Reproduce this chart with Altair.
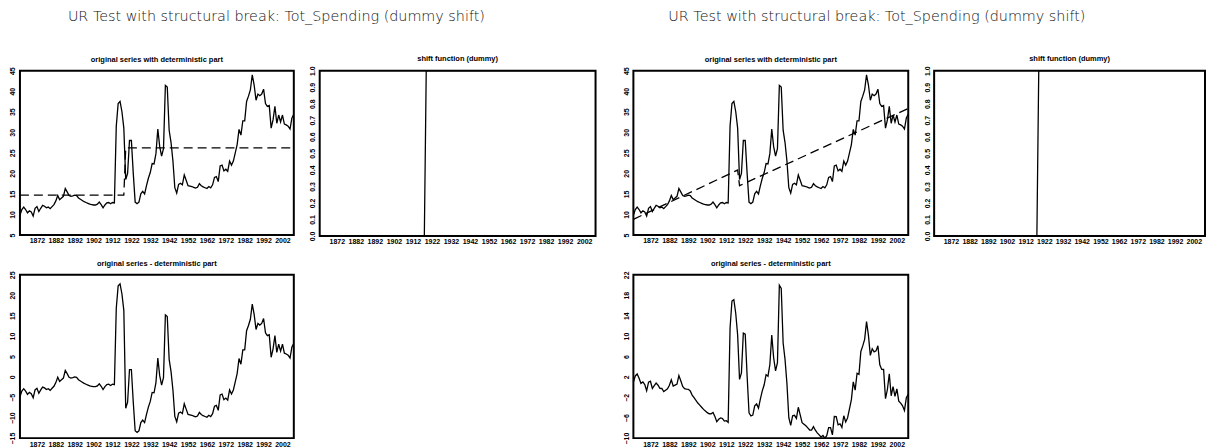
import altair as alt
import pandas as pd

# ---- data ----
years = list(range(1863, 2009))
tot_spending = [
    9.8, 11.2, 11.8, 11.2, 10.4, 10.9, 10.6, 9.6, 11.5, 11.9,      # 1863-1872
    10.7, 11.5, 12.2, 12.0, 11.6, 11.8, 11.4, 11.9, 12.4, 13.3,    # 1873-1882
    14.6, 13.6, 14.0, 14.4, 16.3, 15.5, 14.6, 14.4, 14.5, 14.7,    # 1883-1892
    14.6, 14.0, 13.7, 13.4, 13.1, 12.9, 12.7, 12.5, 12.4, 12.3,    # 1893-1902
    12.3, 12.5, 13.0, 12.4, 11.6, 12.3, 12.8, 12.9, 12.6, 12.9,    # 1903-1912
    12.8, 31.5, 37.0, 37.5, 35.0, 31.0, 18.5, 20.0, 28.0, 28.0,    # 1913-1922
    20.0, 13.0, 12.6, 13.0, 15.0, 15.6, 15.0, 17.0, 18.8, 20.2,    # 1923-1932
    22.4, 22.3, 24.8, 30.8, 26.5, 24.2, 26.0, 41.4, 41.0, 30.5,    # 1933-1942
    27.5, 23.0, 16.5, 15.2, 17.3, 17.6, 17.2, 19.6, 18.3, 17.0,    # 1943-1952
    16.9, 16.8, 16.6, 16.4, 16.6, 17.5, 17.0, 16.7, 16.5, 16.3,    # 1953-1962
    16.8, 16.5, 17.2, 19.0, 19.2, 18.0, 21.8, 22.0, 20.6, 21.0,    # 1963-1972
    20.5, 23.0, 22.0, 23.0, 25.0, 27.0, 30.7, 29.3, 32.8, 32.8,    # 1973-1982
    37.5, 38.8, 40.3, 44.0, 41.5, 37.8, 39.3, 38.9, 39.3, 40.5,    # 1983-1992
    37.0, 36.3, 36.5, 31.0, 33.0, 36.3, 32.2, 34.2, 32.5, 34.2,    # 1993-2002
    32.0, 31.8, 31.5, 30.8, 33.5, 34.4,                            # 2003-2008
]
# deterministic parts (end points of each regime), break after 1918
det_years = [1863, 1918, 1919, 2008]
det_const_shift = [14.7, 14.7, 26.2, 26.2]
det_trend_shift = [8.8, 20.8, 17.0, 35.8]
shift_dummy = [0, 0, 1, 1]
break_year = 1918

x_ticks = list(range(1872, 2003, 10))
title_main = "UR Test with structural break: Tot_Spending (dummy shift)"

series = pd.DataFrame({"year": years, "value": tot_spending})


def regime_line(y0, y1, v0, v1, t):
    if y1 == y0:
        return v0
    return v0 + (v1 - v0) * (t - y0) / (y1 - y0)


def det_at(t, vals):
    if t <= break_year:
        return regime_line(det_years[0], det_years[1], vals[0], vals[1], t)
    return regime_line(det_years[2], det_years[3], vals[2], vals[3], t)


resid_const = pd.DataFrame({"year": years,
                            "value": [v - det_at(t, det_const_shift) for t, v in zip(years, tot_spending)]})
resid_trend = pd.DataFrame({"year": years,
                            "value": [v - det_at(t, det_trend_shift) for t, v in zip(years, tot_spending)]})
det_c = pd.DataFrame({"year": det_years, "value": det_const_shift})
det_t = pd.DataFrame({"year": det_years, "value": det_trend_shift})
shift_df = pd.DataFrame({"year": det_years, "value": shift_dummy})

SMALL_FONT = "Liberation Sans Narrow, Liberation Sans, Arial"


def xenc():
    return alt.X("year:Q",
                 scale=alt.Scale(domain=[1863, 2008], nice=False, zero=False),
                 axis=alt.Axis(values=x_ticks, format="d", title=None, grid=False,
                               ticks=False, domain=False, labelPadding=2,
                               labelFontSize=7, labelFontWeight="bold", labelFont=SMALL_FONT,
                               labelColor="black", labelFlush=False, labelOverlap=False),
                 )


def yenc(domain, ticks, fmt):
    return alt.Y("value:Q",
                 scale=alt.Scale(domain=domain, nice=False, zero=False),
                 axis=alt.Axis(values=ticks, format=fmt, title=None, grid=False,
                               ticks=False, domain=False, labelPadding=4, labelAngle=270,
                               labelAlign="center", labelBaseline="bottom",
                               labelFontSize=7, labelFontWeight="bold", labelFont=SMALL_FONT,
                               labelColor="black", labelFlush=False, labelOverlap=False))


def sub_title(txt):
    return alt.TitleParams(txt, fontSize=7.5, fontWeight="bold", font=SMALL_FONT,
                           color="black", offset=3, anchor="middle")


def panel(main_df, dash_df, domain, ticks, fmt, txt, w, h):
    line = alt.Chart(main_df).mark_line(color="black", strokeWidth=1.3, clip=True).encode(
        x=xenc(), y=yenc(domain, ticks, fmt))
    layers = [line]
    if dash_df is not None:
        dash = alt.Chart(dash_df).mark_line(color="black", strokeWidth=1.3,
                                            strokeDash=[9, 5], clip=True).encode(
            x=xenc(), y=yenc(domain, ticks, fmt))
        layers.append(dash)
    return alt.layer(*layers).properties(width=w, height=h, title=sub_title(txt))


t45 = list(range(5, 46, 5))
t01 = [round(i * 0.1, 1) for i in range(11)]

# left group: constant + shift
A1 = panel(series, det_c, [5, 45], t45, "d", "original series with deterministic part", 275, 165)
S1 = panel(shift_df, None, [0, 1], t01, ".1f", "shift function (dummy)", 277, 166)
B1 = panel(resid_const, None, [-15, 25], list(range(-15, 26, 5)), "d",
           "original series - deterministic part", 275, 164)

# right group: constant + trend + shift
A2 = panel(series, det_t, [5, 45], t45, "d", "original series with deterministic part", 276, 165)
S2 = panel(shift_df, None, [0, 1], t01, ".1f", "shift function (dummy)", 272, 166)
B2 = panel(resid_trend, None, [-10, 22], list(range(-10, 23, 4)), "d",
           "original series - deterministic part", 276, 164)


def group(a, s, b, dx):
    top = alt.hconcat(a, s, spacing=13)
    return alt.vconcat(top, b, spacing=13).properties(
        title=alt.TitleParams(title_main, fontSize=14.4, font="DejaVu Sans", fontWeight=300,
                              color="#111", anchor="middle", dx=dx, offset=30))


chart = alt.hconcat(group(A1, S1, B1, -26), group(A2, S2, B2, -37), spacing=25).properties(
    padding={"left": 0, "top": 0, "right": 0, "bottom": 0},
    background="white",
).configure_view(stroke="black", strokeWidth=2)

chart.save("out.html", embed_options={"renderer": "svg", "actions": False})
